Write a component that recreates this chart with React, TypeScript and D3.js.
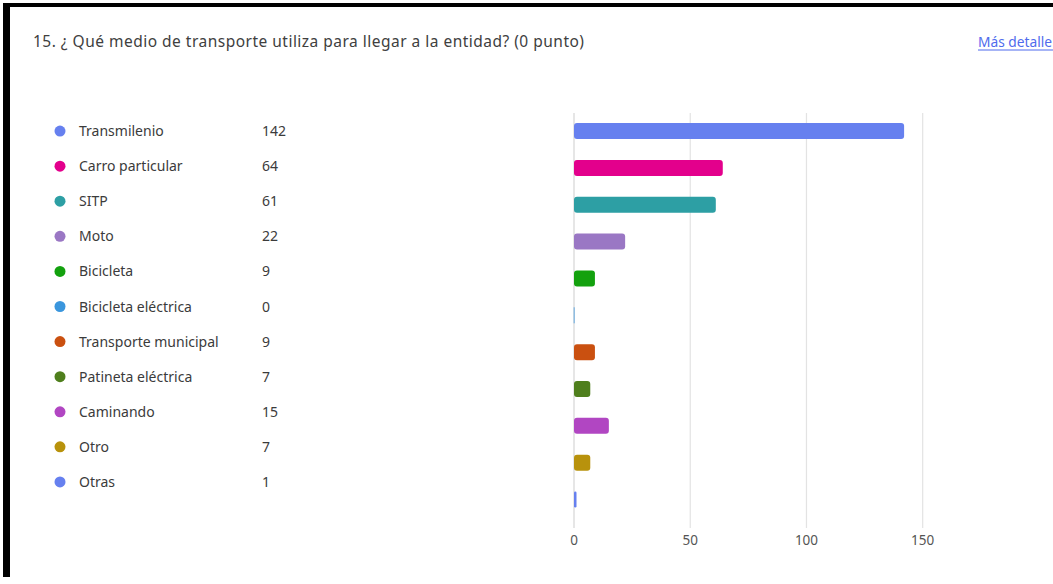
import React from "react";
import * as d3 from "d3";

const categories = [
  "Transmilenio",
  "Carro particular",
  "SITP",
  "Moto",
  "Bicicleta",
  "Bicicleta eléctrica",
  "Transporte municipal",
  "Patineta eléctrica",
  "Caminando",
  "Otro",
  "Otras",
];
const values = [142, 64, 61, 22, 9, 0, 9, 7, 15, 7, 1];
const colors = [
  "#6680EF",
  "#E3008C",
  "#2D9FA4",
  "#9A77C4",
  "#13A10E",
  "#3A96DD",
  "#CA5010",
  "#4F7F1D",
  "#B146C2",
  "#B8920C",
  "#6680EF",
];
const ticks = [0, 50, 100, 150];
const title = "15. ¿ Qué medio de transporte utiliza para llegar a la entidad? (0 punto)";
const linkText = "Más detalle";

const W = 1053;
const H = 584;
const FONT = "'Segoe UI', 'Noto Sans', 'Open Sans', sans-serif";

export default function App() {
  const x = d3.scaleLinear().domain([0, 150]).range([574, 922.7]);
  const y = d3.scaleBand<string>().domain(categories).range([112.6, 517.95]).padding(0);
  const legendY = d3.scaleBand<string>().domain(categories).range([113.5, 499.5]).padding(0);
  const barH = 16;

  return (
    <svg
      width={W}
      height={H}
      style={{ position: "absolute", left: 0, top: 0, background: "#fff" }}
      fontFamily={FONT}
    >
      <rect x={0} y={0} width={W} height={H} fill="#fff" />
      {/* frame */}
      <rect x={3} y={3} width={W - 3} height={4} fill="#000" />
      <rect x={3} y={3} width={7} height={574} fill="#000" />

      <text x={33} y={47} fontSize={15.5} fill="#404040" textLength={551} lengthAdjust="spacing">
        {title}
      </text>
      <text x={978} y={47} fontSize={13.5} fill="#4F6BED" textLength={74} lengthAdjust="spacingAndGlyphs">
        {linkText}
      </text>
      <line x1={978} x2={W} y1={50} y2={50} stroke="#4F6BED" strokeWidth={1} />

      {/* legend */}
      {categories.map((c, i) => {
        const cy = (legendY(c) as number) + legendY.bandwidth() / 2;
        return (
          <g key={"lg" + c}>
            <circle cx={60} cy={cy} r={5.5} fill={colors[i]} />
            <text x={79} y={cy + 5} fontSize={14} fill="#3b3b3b">
              {c}
            </text>
            <text x={262} y={cy + 5} fontSize={14} fill="#3b3b3b">
              {values[i]}
            </text>
          </g>
        );
      })}

      {/* gridlines */}
      {ticks.map((t) => (
        <line
          key={"g" + t}
          x1={x(t)}
          x2={x(t)}
          y1={113}
          y2={528}
          stroke={t === 0 ? "#d6d6d6" : "#e3e3e3"}
          strokeWidth={1.2}
        />
      ))}
      {ticks.map((t) => (
        <text
          key={"t" + t}
          x={x(t)}
          y={545}
          fontSize={13.5}
          fill="#555"
          textAnchor="middle"
        >
          {t}
        </text>
      ))}

      {/* bars */}
      {categories.map((c, i) => {
        const cy = (y(c) as number) + y.bandwidth() / 2;
        const w = x(values[i]) - x(0);
        if (values[i] === 0) {
          return (
            <rect
              key={"b" + c}
              x={x(0) - 0.5}
              y={cy - barH / 2}
              width={1.5}
              height={barH}
              fill={colors[i]}
              opacity={0.5}
            />
          );
        }
        return (
          <rect
            key={"b" + c}
            x={x(0)}
            y={cy - barH / 2}
            width={Math.max(w, 2.5)}
            height={barH}
            rx={Math.min(3, Math.max(w, 2.5) / 2)}
            fill={colors[i]}
          />
        );
      })}
    </svg>
  );
}
